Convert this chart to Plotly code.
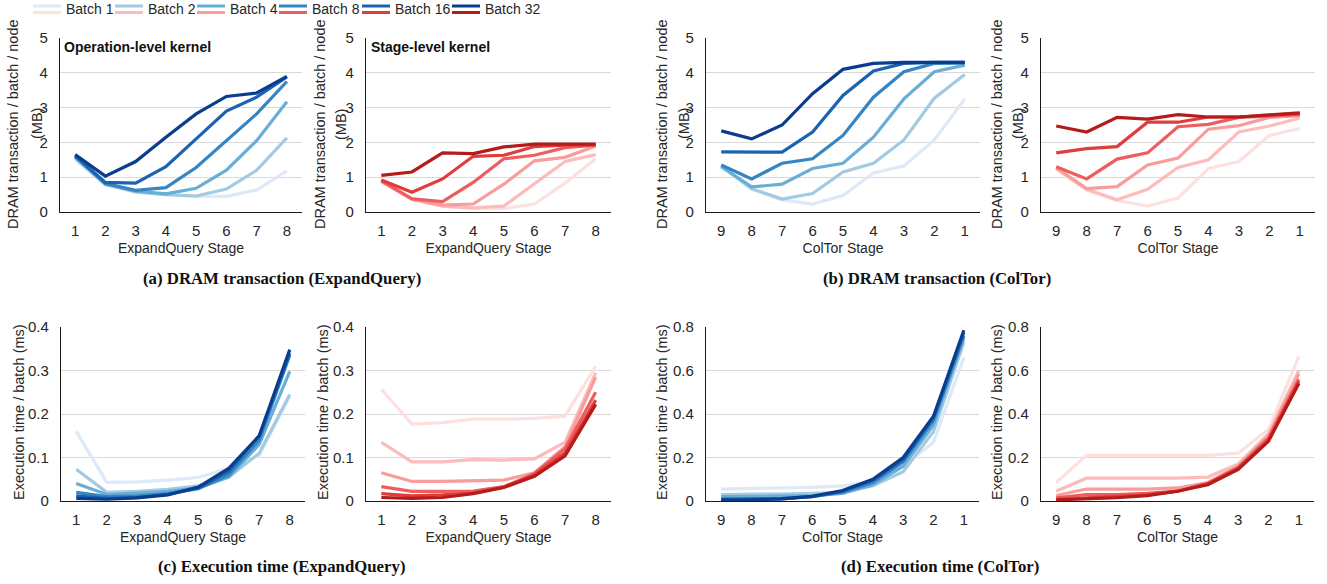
import plotly.graph_objects as go

W, H = 1327, 584

batches = ["Batch 1", "Batch 2", "Batch 4", "Batch 8", "Batch 16", "Batch 32"]
stages_eq = [1, 2, 3, 4, 5, 6, 7, 8]
stages_ct = [9, 8, 7, 6, 5, 4, 3, 2, 1]

blues = ["#dde9f6", "#a3cae3", "#6aaed6", "#3585c3", "#1b62b2", "#0b3d8e"]
reds = ["#fde0e0", "#fcbcbc", "#f89c9c", "#ee5d5d", "#e13c3c", "#b51b1b"]

# (a) DRAM transaction, ExpandQuery, operation-level kernel
dram_eq_op = [
    [1.50, 0.78, 0.57, 0.50, 0.45, 0.45, 0.63, 1.18],
    [1.55, 0.80, 0.58, 0.50, 0.46, 0.66, 1.20, 2.13],
    [1.58, 0.80, 0.60, 0.52, 0.68, 1.20, 2.05, 3.17],
    [1.60, 0.82, 0.62, 0.70, 1.28, 2.05, 2.82, 3.75],
    [1.62, 0.85, 0.83, 1.30, 2.10, 2.90, 3.30, 3.88],
    [1.65, 1.03, 1.45, 2.15, 2.82, 3.32, 3.42, 3.90],
]
# (a) DRAM transaction, ExpandQuery, stage-level kernel
dram_eq_st = [
    [0.87, 0.36, 0.16, 0.10, 0.10, 0.23, 0.83, 1.53],
    [0.88, 0.37, 0.17, 0.12, 0.17, 0.80, 1.45, 1.65],
    [0.88, 0.37, 0.20, 0.23, 0.80, 1.47, 1.57, 1.90],
    [0.90, 0.38, 0.30, 0.85, 1.53, 1.63, 1.85, 1.92],
    [0.92, 0.57, 0.95, 1.60, 1.63, 1.88, 1.92, 1.93],
    [1.05, 1.15, 1.70, 1.68, 1.87, 1.95, 1.95, 1.95],
]
# (b) DRAM transaction, ColTor, operation-level kernel (stages 9..1)
dram_ct_op = [
    [1.30, 0.65, 0.35, 0.23, 0.47, 1.12, 1.32, 2.07, 3.25],
    [1.33, 0.67, 0.37, 0.53, 1.15, 1.40, 2.07, 3.27, 3.95],
    [1.30, 0.72, 0.80, 1.25, 1.40, 2.15, 3.25, 4.03, 4.22],
    [1.35, 0.95, 1.40, 1.53, 2.20, 3.30, 4.03, 4.27, 4.28],
    [1.73, 1.72, 1.72, 2.30, 3.35, 4.05, 4.27, 4.30, 4.30],
    [2.33, 2.10, 2.50, 3.40, 4.10, 4.27, 4.30, 4.30, 4.30],
]
# (b) DRAM transaction, ColTor, stage-level kernel
dram_ct_st = [
    [1.23, 0.63, 0.33, 0.17, 0.40, 1.25, 1.45, 2.20, 2.40],
    [1.25, 0.65, 0.35, 0.65, 1.28, 1.50, 2.30, 2.47, 2.70],
    [1.27, 0.67, 0.73, 1.35, 1.55, 2.38, 2.48, 2.72, 2.77],
    [1.30, 0.95, 1.52, 1.70, 2.45, 2.52, 2.72, 2.77, 2.80],
    [1.70, 1.82, 1.88, 2.58, 2.58, 2.73, 2.73, 2.77, 2.83],
    [2.47, 2.30, 2.72, 2.67, 2.80, 2.73, 2.73, 2.80, 2.85],
]
# (c) Execution time, ExpandQuery, operation-level kernel
time_eq_op = [
    [0.160, 0.043, 0.044, 0.048, 0.054, 0.075, 0.105, 0.240],
    [0.073, 0.020, 0.022, 0.027, 0.035, 0.055, 0.110, 0.245],
    [0.040, 0.015, 0.018, 0.022, 0.030, 0.055, 0.130, 0.298],
    [0.020, 0.010, 0.012, 0.017, 0.028, 0.060, 0.140, 0.335],
    [0.012, 0.006, 0.008, 0.015, 0.030, 0.068, 0.150, 0.340],
    [0.006, 0.004, 0.007, 0.014, 0.032, 0.075, 0.150, 0.348],
]
# (c) Execution time, ExpandQuery, stage-level kernel
time_eq_st = [
    [0.257, 0.177, 0.180, 0.188, 0.188, 0.190, 0.195, 0.310],
    [0.135, 0.090, 0.090, 0.095, 0.094, 0.097, 0.135, 0.295],
    [0.065, 0.045, 0.045, 0.047, 0.048, 0.065, 0.125, 0.285],
    [0.033, 0.022, 0.022, 0.023, 0.033, 0.063, 0.120, 0.250],
    [0.017, 0.012, 0.014, 0.018, 0.032, 0.060, 0.110, 0.232],
    [0.008, 0.006, 0.008, 0.017, 0.031, 0.057, 0.104, 0.222],
]
# (d) Execution time, ColTor, operation-level kernel
time_ct_op = [
    [0.055, 0.057, 0.060, 0.063, 0.070, 0.085, 0.160, 0.270, 0.660],
    [0.030, 0.030, 0.032, 0.035, 0.040, 0.070, 0.135, 0.320, 0.730],
    [0.020, 0.020, 0.022, 0.025, 0.035, 0.075, 0.160, 0.350, 0.750],
    [0.010, 0.010, 0.012, 0.020, 0.040, 0.085, 0.180, 0.370, 0.760],
    [0.006, 0.007, 0.010, 0.020, 0.045, 0.095, 0.190, 0.385, 0.775],
    [0.004, 0.005, 0.010, 0.022, 0.048, 0.100, 0.200, 0.390, 0.785],
]
# (d) Execution time, ColTor, stage-level kernel
time_ct_st = [
    [0.085, 0.210, 0.210, 0.210, 0.210, 0.210, 0.220, 0.330, 0.665],
    [0.045, 0.105, 0.105, 0.105, 0.105, 0.110, 0.170, 0.310, 0.600],
    [0.025, 0.055, 0.055, 0.055, 0.060, 0.085, 0.160, 0.300, 0.585],
    [0.015, 0.030, 0.030, 0.035, 0.045, 0.080, 0.155, 0.290, 0.560],
    [0.008, 0.015, 0.020, 0.028, 0.045, 0.080, 0.150, 0.280, 0.550],
    [0.005, 0.010, 0.015, 0.025, 0.045, 0.075, 0.145, 0.275, 0.540],
]

FONT = "Liberation Sans, Arial, sans-serif"
SERIF = "Liberation Serif, Times New Roman, serif"
TXT = "#262626"


def px(x):
    return x / W


def py(y):
    return 1 - y / H


# panel definitions: data, x values, palette, x pixel domain, row, y max, y dtick, x title
panels = [
    (dram_eq_op, stages_eq, blues, (60, 302), "top", 5, 1, "ExpandQuery Stage"),
    (dram_eq_st, stages_eq, reds, (366, 611), "top", 5, 1, "ExpandQuery Stage"),
    (dram_ct_op, stages_ct, blues, (706, 980), "top", 5, 1, "ColTor Stage"),
    (dram_ct_st, stages_ct, reds, (1041, 1315), "top", 5, 1, "ColTor Stage"),
    (time_eq_op, stages_eq, blues, (61, 305), "bot", 0.4, 0.1, "ExpandQuery Stage"),
    (time_eq_st, stages_eq, reds, (366, 611), "bot", 0.4, 0.1, "ExpandQuery Stage"),
    (time_ct_op, stages_ct, blues, (706, 979), "bot", 0.8, 0.2, "ColTor Stage"),
    (time_ct_st, stages_ct, reds, (1041, 1314), "bot", 0.8, 0.2, "ColTor Stage"),
]
rows = {"top": (38, 212), "bot": (327, 501)}

fig = go.Figure()
layout = {}
for i, (data, xs, pal, (x0, x1), row, ymax, dt, xtitle) in enumerate(panels):
    n = i + 1
    xa = "x" if n == 1 else f"x{n}"
    ya = "y" if n == 1 else f"y{n}"
    for b, vals in enumerate(data):
        fig.add_trace(go.Scatter(
            x=xs, y=vals, mode="lines", name=batches[b],
            line=dict(color=pal[b], width=3.2), xaxis=xa, yaxis=ya,
            showlegend=False,
        ))
    y0p, y1p = rows[row]
    rev = xs[0] > xs[-1]
    layout["xaxis" if n == 1 else f"xaxis{n}"] = dict(
        domain=[px(x0), px(x1)], anchor=ya, automargin=False,
        range=[9.5, 0.5] if rev else [0.5, 8.5],
        tickmode="array", tickvals=xs, ticktext=[str(v) for v in xs],
        showgrid=False, zeroline=False, showline=True, linecolor="#1a1a1a",
        linewidth=1.3, ticks="", ticklabelstandoff=5,
        tickfont=dict(family=FONT, size=15, color=TXT),
        title=dict(text=xtitle, font=dict(family=FONT, size=14, color=TXT), standoff=5),
        fixedrange=True,
    )
    layout["yaxis" if n == 1 else f"yaxis{n}"] = dict(
        domain=[py(y1p), py(y0p)], anchor=xa, automargin=False,
        range=[0, ymax], dtick=dt, tick0=0,
        showgrid=True, gridcolor="#d9d9d9", gridwidth=1,
        zeroline=False, showline=True, linecolor="#1a1a1a", linewidth=1.3,
        ticks="", ticklabelstandoff=8,
        tickfont=dict(family=FONT, size=15, color=TXT),
        fixedrange=True,
    )

annotations = []
# y-axis titles
top_titles = [(13, 37), (320, 341), (662, 684), (997, 1018)]
for a, b in top_titles:
    annotations.append(dict(x=px(a), y=py(124), xref="paper", yref="paper",
                            text="DRAM transaction / batch / node", textangle=-90,
                            showarrow=False, font=dict(family=FONT, size=14.5, color=TXT),
                            xanchor="center", yanchor="middle"))
    annotations.append(dict(x=px(b), y=py(124), xref="paper", yref="paper",
                            text="(MB)", textangle=-90,
                            showarrow=False, font=dict(family=FONT, size=14.5, color=TXT),
                            xanchor="center", yanchor="middle"))
for a in [19, 323, 662, 997]:
    annotations.append(dict(x=px(a), y=py(412), xref="paper", yref="paper",
                            text="Execution time / batch (ms)", textangle=-90,
                            showarrow=False, font=dict(family=FONT, size=14.5, color=TXT),
                            xanchor="center", yanchor="middle"))

# panel labels
annotations.append(dict(x=px(62), y=py(47), xref="paper", yref="paper",
                        text="<b>Operation-level kernel</b>", showarrow=False,
                        xanchor="left", yanchor="middle",
                        font=dict(family=FONT, size=14, color="#111")))
annotations.append(dict(x=px(369), y=py(47), xref="paper", yref="paper",
                        text="<b>Stage-level kernel</b>", showarrow=False,
                        xanchor="left", yanchor="middle",
                        font=dict(family=FONT, size=14, color="#111")))

# captions
captions = [
    ("(a) DRAM transaction (ExpandQuery)", 282, 278),
    ("(b) DRAM transaction (ColTor)", 937, 278),
    ("(c) Execution time (ExpandQuery)", 282, 566),
    ("(d) Execution time (ColTor)", 940, 566),
]
for t, cx, cy in captions:
    annotations.append(dict(x=px(cx), y=py(cy), xref="paper", yref="paper",
                            text=f"<b>{t}</b>", showarrow=False,
                            xanchor="center", yanchor="middle",
                            font=dict(family=SERIF, size=16.8, color="#111")))

# legend (two-colour samples: blue over red)
shapes = []
leg_x = [33, 115, 197, 279, 362, 452]
for b, lx in enumerate(leg_x):
    shapes.append(dict(type="line", xref="paper", yref="paper",
                       x0=px(lx), x1=px(lx + 28), y0=py(6), y1=py(6),
                       line=dict(color=blues[b], width=3)))
    shapes.append(dict(type="line", xref="paper", yref="paper",
                       x0=px(lx), x1=px(lx + 28), y0=py(12.5), y1=py(12.5),
                       line=dict(color=reds[b], width=3)))
    annotations.append(dict(x=px(lx + 31), y=py(9.5), xref="paper", yref="paper",
                            text=batches[b], showarrow=False,
                            xanchor="left", yanchor="middle",
                            font=dict(family=FONT, size=14, color=TXT)))

fig.update_layout(
    template="none",
    width=W, height=H,
    margin=dict(l=0, r=0, t=0, b=0, pad=0, autoexpand=False),
    paper_bgcolor="white", plot_bgcolor="white",
    annotations=annotations, shapes=shapes,
    showlegend=False,
    **layout,
)

fig.write_html(
    "out.html",
    config={"displayModeBar": False},
    post_script="document.body.style.margin='0';document.body.style.overflow='hidden';",
)
